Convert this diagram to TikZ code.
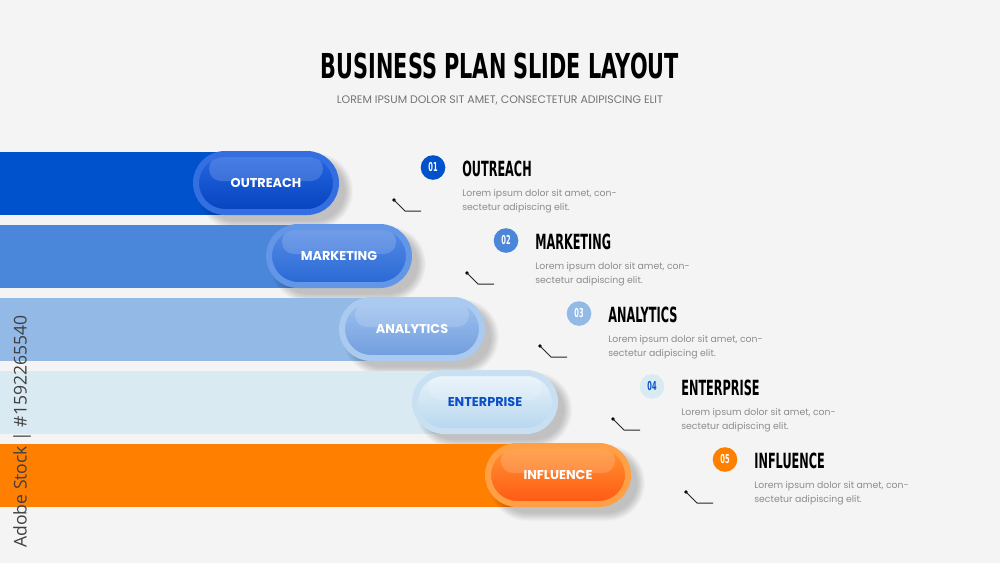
\documentclass[tikz,border=0pt]{standalone}
\usepackage{fontspec}
\usepackage{graphicx}
\setmainfont{Poppins}
\newfontfamily\headfont{DejaVu Sans}
\newfontfamily\stampfont{Open Sans}
\usetikzlibrary{shapes.misc}

\definecolor{bgcol}{RGB}{244,244,244}
\definecolor{barA}{RGB}{0,82,204}
\definecolor{barB}{RGB}{74,134,218}
\definecolor{barC}{RGB}{147,185,230}
\definecolor{barD}{RGB}{217,234,243}
\definecolor{barE}{RGB}{255,127,0}
\definecolor{ringA}{RGB}{52,110,225}
\definecolor{ringB}{RGB}{100,150,232}
\definecolor{ringC}{RGB}{170,202,240}
\definecolor{ringD}{RGB}{200,224,242}
\definecolor{ringE}{RGB}{255,160,70}
\definecolor{topA}{RGB}{38,104,226}
\definecolor{topB}{RGB}{88,140,230}
\definecolor{topC}{RGB}{160,195,240}
\definecolor{topD}{RGB}{234,243,251}
\definecolor{topE}{RGB}{255,150,50}
\definecolor{botA}{RGB}{6,66,190}
\definecolor{botB}{RGB}{40,104,212}
\definecolor{botC}{RGB}{112,156,222}
\definecolor{botD}{RGB}{182,214,238}
\definecolor{botE}{RGB}{255,88,20}
\definecolor{deepblue}{RGB}{11,79,200}
\definecolor{descgray}{RGB}{140,140,140}
\definecolor{subgray}{RGB}{115,115,115}

\newcommand{\cond}[1]{\scalebox{0.54}[1]{#1}}
% soft shadow under a pill centred at (#1,#2)
\newcommand{\pillshadow}[2]{%
  \foreach \g in {0,...,8}
    \fill[black,opacity=0.022,rounded corners={(30+\g)*0.2mm}] ({#1-70-\g+9},{#2-30-\g+8}) rectangle ({#1+70+\g+9},{#2+30+\g+8});%
}

\tikzset{
  pill/.style={rounded rectangle, minimum width=140*0.2mm, minimum height=58*0.2mm, line width=1.2mm, inner sep=0pt,
    font=\fontsize{7.3}{8}\selectfont\bfseries, text=white,
    path picture={\fill[white,opacity=.16,rounded corners=2.4mm] ([xshift=2.6mm,yshift=-0.5mm]path picture bounding box.north west) rectangle ([xshift=-2.6mm,yshift=-5.4mm]path picture bounding box.north east);}},
  numdot/.style={circle, minimum size=24.6*0.2mm, inner sep=0pt, text=white, font=\headfont\fontsize{7}{8}\selectfont\bfseries},
  heading/.style={anchor=west, inner sep=0pt, font=\headfont\fontsize{11.9}{13}\selectfont\bfseries},
  desc/.style={anchor=base west, inner sep=0pt, text=descgray, font=\fontsize{5.3}{7}\selectfont},
  pin/.style={circle, fill=black, inner sep=0pt, minimum size=3.6*0.2mm},
  wire/.style={line width=0.2mm, black!85}
}

\begin{document}
\begin{tikzpicture}[x=0.2mm,y=-0.2mm]
\fill[bgcol] (0,0) rectangle (1000,563);% background
\useasboundingbox (0,0) rectangle (1000,563);

\node[font=\headfont\bfseries, inner sep=0pt] (title) at (500,65.5) {\resizebox{71.6mm}{5.1mm}{BUSINESS PLAN SLIDE LAYOUT}};
\node[font=\fontsize{5}{6}\selectfont, text=subgray, inner sep=0pt] (subtitle) at (500,100) {\resizebox{65.2mm}{!}{LOREM IPSUM DOLOR SIT AMET, CONSECTETUR ADIPISCING ELIT}};

% bars and pills, top to bottom
\fill[barA] (0,151.5) rectangle (266,215);% bar 01
\pillshadow{266}{183}
\node[pill, draw=ringA, top color=topA, bottom color=botA] (p1) at (266,183) {OUTREACH};
\fill[barB] (0,224.5) rectangle (339,288);% bar 02
\pillshadow{339}{256}
\node[pill, draw=ringB, top color=topB, bottom color=botB] (p2) at (339,256) {MARKETING};
\fill[barC] (0,297.5) rectangle (412,361);% bar 03
\pillshadow{412}{329}
\node[pill, draw=ringC, top color=topC, bottom color=botC] (p3) at (412,329) {ANALYTICS};
\fill[barD] (0,370.5) rectangle (485,434);% bar 04
\pillshadow{485}{402}
\node[pill, draw=ringD, top color=topD, bottom color=botD, text=deepblue] (p4) at (485,402) {ENTERPRISE};
\fill[barE] (0,443.5) rectangle (558,507);% bar 05
\pillshadow{558}{475}
\node[pill, draw=ringE, top color=topE, bottom color=botE] (p5) at (558,475) {INFLUENCE};

% step 01
\node[numdot, fill=barA] (n1) at (433,167.5) {\cond{01}};
\node[heading] (h1) at (462,168.5) {\cond{OUTREACH}};
\node[desc] (d1a) at (462,196.5) {Lorem ipsum dolor sit amet, con-};
\node[desc] (d1b) at (462,210.5) {sectetur adipiscing elit.};
\node[pin] (k1) at (394,200) {};
\coordinate (e1) at (405,211);
\coordinate (f1) at (421,211);
\draw[wire] (k1.center) -- (e1) -- (f1);

% step 02
\node[numdot, fill=barB] (n2) at (506,240.5) {\cond{02}};
\node[heading] (h2) at (535,241.5) {\cond{MARKETING}};
\node[desc] (d2a) at (535,269.5) {Lorem ipsum dolor sit amet, con-};
\node[desc] (d2b) at (535,283.5) {sectetur adipiscing elit.};
\node[pin] (k2) at (467,273) {};
\coordinate (e2) at (478,284);
\coordinate (f2) at (494,284);
\draw[wire] (k2.center) -- (e2) -- (f2);

% step 03
\node[numdot, fill=barC] (n3) at (579,313.5) {\cond{03}};
\node[heading] (h3) at (608,314.5) {\cond{ANALYTICS}};
\node[desc] (d3a) at (608,342.5) {Lorem ipsum dolor sit amet, con-};
\node[desc] (d3b) at (608,356.5) {sectetur adipiscing elit.};
\node[pin] (k3) at (540,346) {};
\coordinate (e3) at (551,357);
\coordinate (f3) at (567,357);
\draw[wire] (k3.center) -- (e3) -- (f3);

% step 04
\node[numdot, fill=barD, text=deepblue] (n4) at (652,386.5) {\cond{04}};
\node[heading] (h4) at (681,387.5) {\cond{ENTERPRISE}};
\node[desc] (d4a) at (681,415.5) {Lorem ipsum dolor sit amet, con-};
\node[desc] (d4b) at (681,429.5) {sectetur adipiscing elit.};
\node[pin] (k4) at (613,419) {};
\coordinate (e4) at (624,430);
\coordinate (f4) at (640,430);
\draw[wire] (k4.center) -- (e4) -- (f4);

% step 05
\node[numdot, fill=barE] (n5) at (725,459.5) {\cond{05}};
\node[heading] (h5) at (754,460.5) {\cond{INFLUENCE}};
\node[desc] (d5a) at (754,488.5) {Lorem ipsum dolor sit amet, con-};
\node[desc] (d5b) at (754,502.5) {sectetur adipiscing elit.};
\node[pin] (k5) at (686,492) {};
\coordinate (e5) at (697,503);
\coordinate (f5) at (713,503);
\draw[wire] (k5.center) -- (e5) -- (f5);

\node[rotate=90, anchor=west, inner sep=0pt, text=black!75, font=\stampfont\fontsize{10}{12}\selectfont] (stamp) at (22,548) {Adobe Stock | \#1592265540};
\end{tikzpicture}
\end{document}
